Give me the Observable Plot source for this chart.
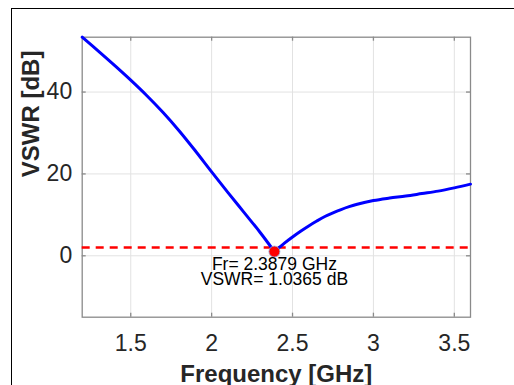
<!DOCTYPE html>
<html>
<head>
<meta charset="utf-8">
<script src="https://cdn.jsdelivr.net/npm/d3@7"></script>
<script src="https://cdn.jsdelivr.net/npm/@observablehq/plot@0.6"></script>
<style>
  html, body { margin: 0; padding: 0; background: #fff; }
  #wrap { position: relative; width: 514px; height: 385px; overflow: hidden; background: #fff; }
  #border { position: absolute; left: 11px; top: 8px; width: 700px; height: 600px; border: 1.5px solid #000; pointer-events: none; }
</style>
</head>
<body>
<div id="wrap"><div id="chart"></div><div id="border"></div></div>
<script>
// Frequency (GHz) and VSWR (dB)
const freq = [1.2, 1.3, 1.4, 1.5, 1.6, 1.7, 1.8, 1.9, 2.0, 2.1, 2.2, 2.3, 2.3879,
              2.42, 2.45, 2.5, 2.55, 2.6, 2.65, 2.7, 2.75, 2.8, 2.85, 2.9, 3.0,
              3.1, 3.2, 3.3, 3.4, 3.5, 3.6];
const vswr = [53.4, 50.0, 46.5, 42.9, 39.1, 35.0, 30.5, 25.6, 20.5, 15.5, 10.6, 5.7, 1.0365,
              2.1, 3.1, 4.6, 6.0, 7.3, 8.5, 9.6, 10.5, 11.3, 12.0, 12.6, 13.5,
              14.1, 14.6, 15.2, 15.8, 16.6, 17.5];
const xTicks = [1.5, 2, 2.5, 3, 3.5];
const yTicks = [0, 20, 40];
const resonance = [{f: 2.3879, v: 1.0365}];
const threshold = [2];
const xLabel = "Frequency [GHz]";
const yLabel = "VSWR [dB]";

// split into the two branches on either side of the resonance (both share the minimum)
const fr = resonance[0].f;
const data = [];
freq.forEach((f, i) => {
  if (f <= fr) data.push({f, v: vswr[i], branch: "low"});
  if (f >= fr) data.push({f, v: vswr[i], branch: "high"});
});

const W = 514, H = 385;
const mL = 81.7, mR = 44, mT = 36.7, mB = 68.3;
const pw = W - mL - mR, ph = H - mT - mB;
const axisColor = "#8a8a8a";
const font = "'Liberation Sans', Arial, Helvetica, sans-serif";

const chart = Plot.plot({
  width: W, height: H,
  marginLeft: mL, marginRight: mR, marginTop: mT, marginBottom: mB,
  style: {fontFamily: font, background: "transparent", overflow: "visible"},
  x: {domain: [1.2, 3.6]},
  y: {domain: [-15, 53.4]},
  marks: [
    Plot.gridX(xTicks, {stroke: "#e2e2e2", strokeOpacity: 1, strokeWidth: 1}),
    Plot.gridY(yTicks, {stroke: "#e2e2e2", strokeOpacity: 1, strokeWidth: 1}),
    Plot.frame({stroke: axisColor, strokeWidth: 1.3}),
    // inward ticks on all four sides
    Plot.tickX(xTicks, {x: d => d, insetTop: ph - 4, stroke: axisColor, strokeWidth: 1.3}),
    Plot.tickX(xTicks, {x: d => d, insetBottom: ph - 4, stroke: axisColor, strokeWidth: 1.3}),
    Plot.tickY(yTicks, {y: d => d, insetRight: pw - 4, stroke: axisColor, strokeWidth: 1.3}),
    Plot.tickY(yTicks, {y: d => d, insetLeft: pw - 4, stroke: axisColor, strokeWidth: 1.3}),
    Plot.axisX({ticks: xTicks, tickSize: 0, tickPadding: 17, fontSize: 23, fill: "#262626",
                tickFormat: d => String(d), label: null}),
    Plot.axisY({ticks: yTicks, tickSize: 0, tickPadding: 10, fontSize: 23, fill: "#262626",
                tickFormat: d => String(d), label: null}),
    Plot.ruleY(threshold, {stroke: "#ff0000", strokeWidth: 2.5, strokeDasharray: "8,6"}),
    Plot.line(data, {x: "f", y: "v", z: "branch", curve: "catmull-rom",
                     stroke: "#0000ff", strokeWidth: 3}),
    Plot.dot(resonance, {x: "f", y: "v", r: 5.5, fill: "#ff0000", stroke: "#8fb0e0", strokeWidth: 0.8}),
    Plot.text(resonance, {x: "f", y: "v",
      text: d => `Fr= ${d.f} GHz\nVSWR= ${d.v} dB`,
      lineAnchor: "top", dy: 8.5, lineHeight: 0.84, fontSize: 17.5, fill: "#000", textAnchor: "middle"}),
    Plot.text([xLabel], {frameAnchor: "bottom", lineAnchor: "bottom", dy: 65, fontSize: 24,
      fontWeight: "bold", fill: "#262626"}),
    Plot.text([yLabel], {frameAnchor: "left", lineAnchor: "bottom", rotate: -90, dx: -43.5,
      fontSize: 24, fontWeight: "bold", fill: "#262626"})
  ]
});
document.getElementById("chart").appendChild(chart);
</script>
</body>
</html>
